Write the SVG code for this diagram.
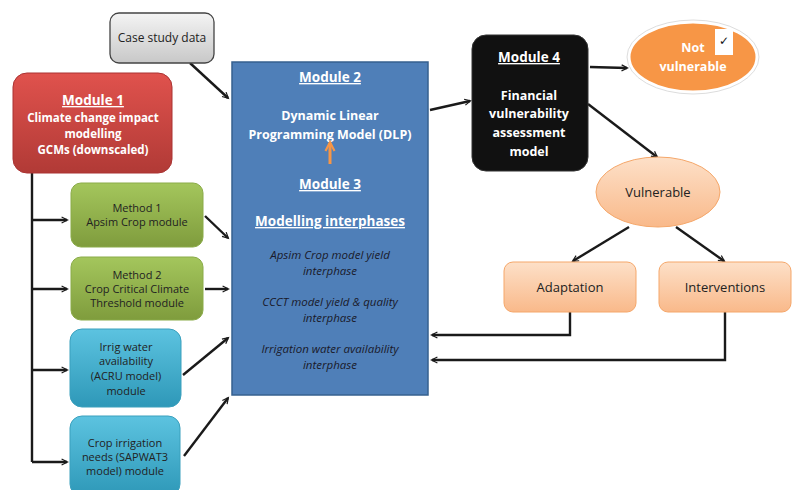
<svg xmlns="http://www.w3.org/2000/svg" width="800" height="490" viewBox="0 0 800 490">
<defs>
<linearGradient id="gRed" x1="0" y1="0" x2="0" y2="1"><stop offset="0" stop-color="#e0524d"/><stop offset="1" stop-color="#b13a36"/></linearGradient>
<linearGradient id="gGrey" x1="0" y1="0" x2="0" y2="1"><stop offset="0" stop-color="#f4f4f4"/><stop offset="1" stop-color="#c8c8c8"/></linearGradient>
<linearGradient id="gGreen" x1="0" y1="0" x2="0" y2="1"><stop offset="0" stop-color="#a4c65c"/><stop offset="1" stop-color="#7f9c3d"/></linearGradient>
<linearGradient id="gCyan" x1="0" y1="0" x2="0" y2="1"><stop offset="0" stop-color="#5cc3e0"/><stop offset="1" stop-color="#2e98b8"/></linearGradient>
<linearGradient id="gPeach" x1="0" y1="0" x2="0" y2="1"><stop offset="0" stop-color="#fde0c8"/><stop offset="1" stop-color="#f9b98a"/></linearGradient>
<marker id="ah" viewBox="0 0 10 10" refX="9" refY="5" markerWidth="6" markerHeight="6" orient="auto" markerUnits="userSpaceOnUse" overflow="visible">
<path d="M0,0 L10,5 L0,10" fill="none" stroke="#1a1a1a" stroke-width="2"/>
</marker>
<marker id="ahO" viewBox="0 0 10 10" refX="9" refY="5" markerWidth="9" markerHeight="9" orient="auto" markerUnits="userSpaceOnUse" overflow="visible">
<path d="M0,0 L10,5 L0,10" fill="none" stroke="#f79646" stroke-width="2.4"/>
</marker>
</defs>
<style>
text{font-family:"Open Sans","Liberation Sans",sans-serif;text-anchor:middle}
.w{fill:#ffffff;font-weight:bold;font-size:12.5px}
.h{fill:#ffffff;font-weight:bold;font-size:13.5px;text-decoration:underline}
.d{fill:#222222;font-size:11px}
.i{fill:#1a1a2a;font-style:italic;font-size:11.5px}
.c{stroke:#1a1a1a;stroke-width:2.4;fill:none;marker-end:url(#ah)}
</style>
<rect width="800" height="490" fill="#ffffff"/>

<g id="connectors">
<path class="c" d="M190,63 L228,98"/>
<path d="M32,172 L32,462" stroke="#1a1a1a" stroke-width="2.4" fill="none"/>
<path class="c" d="M32,220 L67,220"/>
<path class="c" d="M32,289 L67,289"/>
<path class="c" d="M32,370 L67,370"/>
<path class="c" d="M32,462 L67,462"/>
<path class="c" d="M205,216 L228,238"/>
<path class="c" d="M205,289 L228,289"/>
<path class="c" d="M183,375 L228,338"/>
<path class="c" d="M184,456 L228,398"/>
<path class="c" d="M430,110 L470,101"/>
<path class="c" d="M590,67 L627,68"/>
<path class="c" d="M588,104 L657,157"/>
<path class="c" d="M629,227 L573,261"/>
<path class="c" d="M676,227 L724,261"/>
<path class="c" d="M570,312 L570,335 L432,335"/>
<path class="c" d="M725,312 L725,360 L432,360"/>
</g>

<g id="case">
<rect x="110" y="13" width="104" height="50" rx="9" fill="url(#gGrey)" stroke="#444" stroke-width="1.3"/>
<text x="162" y="42" class="d" style="font-size:12px">Case study data</text>
</g>

<g id="module1">
<rect x="13" y="73" width="159" height="100" rx="14" fill="url(#gRed)" stroke="#a33" stroke-width="1"/>
<text x="93" y="105" class="h">Module 1</text>
<text x="93" y="122" class="w" style="font-size:11.5px">Climate change impact</text>
<text x="93" y="138" class="w" style="font-size:11.5px">modelling</text>
<text x="93" y="154" class="w" style="font-size:11.5px">GCMs (downscaled)</text>
</g>

<g id="method1">
<rect x="71" y="183" width="132" height="64" rx="10" fill="url(#gGreen)" stroke="#8aab48" stroke-width="1"/>
<text x="137" y="212" class="d">Method 1</text>
<text x="137" y="226" class="d">Apsim Crop  module</text>
</g>

<g id="method2">
<rect x="71" y="257" width="132" height="63" rx="10" fill="url(#gGreen)" stroke="#8aab48" stroke-width="1"/>
<text x="137" y="279" class="d">Method 2</text>
<text x="137" y="293" class="d">Crop Critical Climate</text>
<text x="137" y="307" class="d">Threshold  module</text>
</g>

<g id="irrig">
<rect x="70" y="329" width="111" height="78" rx="12" fill="url(#gCyan)" stroke="#3aa0bd" stroke-width="1"/>
<text x="126" y="351" class="d">Irrig water</text>
<text x="126" y="365" class="d">availability</text>
<text x="126" y="380" class="d">(ACRU model)</text>
<text x="126" y="395" class="d">module</text>
</g>

<g id="cropirr">
<rect x="70" y="416" width="110" height="80" rx="12" fill="url(#gCyan)" stroke="#3aa0bd" stroke-width="1"/>
<text x="125" y="447" class="d">Crop irrigation</text>
<text x="125" y="461" class="d">needs  (SAPWAT3</text>
<text x="125" y="475" class="d">model) module</text>
</g>

<g id="module2">
<rect x="232" y="62" width="196" height="333" fill="#4f7fb8" stroke="#36608f" stroke-width="1.5"/>
<text x="330" y="82" class="h">Module 2</text>
<text x="330" y="120" class="w">Dynamic Linear</text>
<text x="330" y="139" class="w">Programming  Model (DLP)</text>
<path d="M330,164 L330,143" stroke="#f79646" stroke-width="3" fill="none" marker-end="url(#ahO)"/>
<text x="330" y="189" class="h">Module 3</text>
<text x="330" y="226" class="h">Modelling  interphases</text>
<text x="330" y="259" class="i">Apsim Crop model yield</text>
<text x="330" y="275" class="i">interphase</text>
<text x="330" y="306" class="i">CCCT model yield &amp; quality</text>
<text x="330" y="322" class="i">interphase</text>
<text x="330" y="353" class="i">Irrigation water availability</text>
<text x="330" y="369" class="i">interphase</text>
</g>

<g id="module4">
<rect x="472" y="35" width="116" height="136" rx="14" fill="#111111" stroke="#333" stroke-width="1"/>
<text x="529" y="62" class="h">Module 4</text>
<text x="529" y="100" class="w">Financial</text>
<text x="529" y="118" class="w">vulnerability</text>
<text x="529" y="137" class="w">assessment</text>
<text x="529" y="156" class="w">model</text>
</g>

<g id="notvulnerable">
<ellipse cx="693" cy="57" rx="64" ry="35" fill="#f79646" stroke="#ffffff" stroke-width="3"/>
<ellipse cx="693" cy="57" rx="66" ry="37" fill="none" stroke="#dddddd" stroke-width="1"/>
<rect x="715" y="29" width="18" height="26" fill="#ffffff"/>
<text x="724" y="45" style="font-family:'DejaVu Sans',sans-serif;font-size:12px;fill:#111">✓</text>
<text x="693" y="52" class="w">Not</text>
<text x="693" y="71" class="w">vulnerable</text>
</g>

<g id="vulnerable">
<ellipse cx="658" cy="192" rx="62" ry="35" fill="url(#gPeach)" stroke="#f5a76a" stroke-width="1"/>
<text x="658" y="197" class="d" style="font-size:13px">Vulnerable</text>
</g>

<g id="adaptation">
<rect x="504" y="262" width="132" height="50" rx="9" fill="url(#gPeach)" stroke="#f5a76a" stroke-width="1"/>
<text x="570" y="292" class="d" style="font-size:13px">Adaptation</text>
</g>

<g id="interventions">
<rect x="659" y="262" width="132" height="50" rx="9" fill="url(#gPeach)" stroke="#f5a76a" stroke-width="1"/>
<text x="725" y="292" class="d" style="font-size:13px">Interventions</text>
</g>
</svg>
